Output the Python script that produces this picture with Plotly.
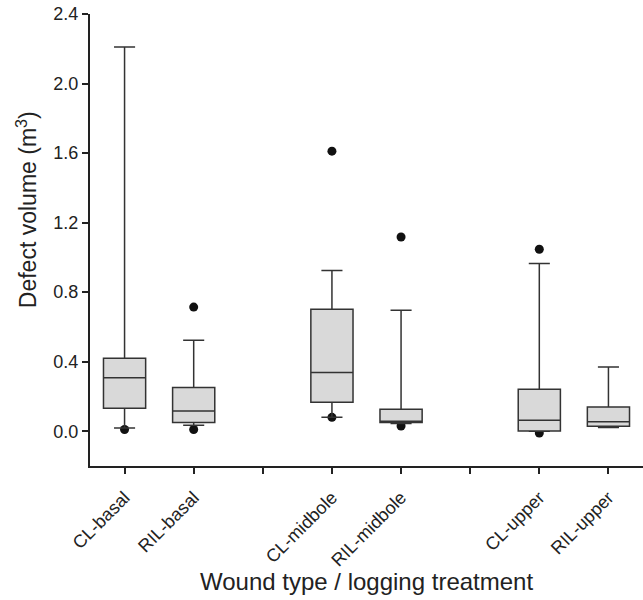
import plotly.graph_objects as go

# --- data ---
tick_positions = [1, 2, 3, 4, 5, 6, 7, 8]
tick_labels = ["CL-basal", "RIL-basal", "", "CL-midbole", "RIL-midbole", "", "CL-upper", "RIL-upper"]

box_positions = [1, 2, 4, 5, 7, 8]
q1 = [0.132, 0.050, 0.167, 0.050, 0.002, 0.029]
median = [0.307, 0.117, 0.338, 0.058, 0.063, 0.054]
q3 = [0.420, 0.251, 0.702, 0.127, 0.242, 0.140]
lower_whisker = [0.019, 0.035, 0.081, 0.044, 0.000, 0.021]
upper_whisker = [2.21, 0.524, 0.925, 0.696, 0.965, 0.370]

outlier_x = [1, 2, 2, 4, 4, 5, 5, 7, 7]
outlier_y = [0.010, 0.714, 0.010, 1.611, 0.080, 1.117, 0.030, 1.047, -0.010]

y_ticks = [0.0, 0.4, 0.8, 1.2, 1.6, 2.0, 2.4]

FONT = "Liberation Sans, Arial, Helvetica, sans-serif"
x_range = [0.5, 8.5]
y_range = [-0.2, 2.4]

fig = go.Figure()

# outliers drawn beneath the boxes (main axes)
fig.add_trace(go.Scatter(
    x=outlier_x, y=outlier_y, mode="markers",
    marker=dict(color="#111111", size=9, line=dict(width=0)),
    showlegend=False, hoverinfo="skip", xaxis="x", yaxis="y",
))

# boxes on an overlaying axis pair so they sit on top of the dots
fig.add_trace(go.Box(
    x=box_positions, q1=q1, median=median, q3=q3,
    lowerfence=lower_whisker, upperfence=upper_whisker,
    width=0.61, whiskerwidth=0.5,
    fillcolor="#d9d9d9", line=dict(color="#333333", width=1.5),
    boxpoints=False, showlegend=False, xaxis="x2", yaxis="y2",
))

fig.update_layout(
    width=643, height=600,
    margin=dict(l=90, r=0, t=14, b=134),
    paper_bgcolor="white", plot_bgcolor="white",
    font=dict(family=FONT, color="#222222", size=18),
    xaxis=dict(
        range=x_range, tickmode="array", tickvals=tick_positions, ticktext=tick_labels,
        tickangle=-45, ticks="outside", ticklen=6, tickwidth=1.5, tickcolor="#222222",
        ticklabelstandoff=6,
        showline=True, linecolor="#222222", linewidth=2, showgrid=False, zeroline=False,
        tickfont=dict(size=18), automargin=False,
    ),
    yaxis=dict(
        range=y_range, tickmode="array", tickvals=y_ticks, tickformat=".1f",
        ticks="outside", ticklen=6, tickwidth=1.5, tickcolor="#222222",
        showline=True, linecolor="#222222", linewidth=2, showgrid=False, zeroline=False,
        tickfont=dict(size=18), automargin=False,
    ),
    xaxis2=dict(range=x_range, overlaying="x", visible=False, showgrid=False, zeroline=False),
    yaxis2=dict(range=y_range, overlaying="y", visible=False, showgrid=False, zeroline=False),
    annotations=[
        dict(
            text="Defect volume (m<sup>3</sup>)", textangle=-90,
            xref="paper", yref="paper", x=0, y=0.566, xshift=-63,
            xanchor="center", yanchor="middle", showarrow=False,
            font=dict(size=23, family=FONT, color="#222222"),
        ),
        dict(
            text="Wound type / logging treatment",
            xref="paper", yref="paper", x=0.5, y=-0.2566,
            xanchor="center", yanchor="middle", showarrow=False,
            font=dict(size=24, family=FONT, color="#222222"),
        ),
    ],
)

fig.write_html(
    "out.html",
    config={"displayModeBar": False},
    post_script="document.body.style.margin='0';document.body.style.overflow='hidden';",
)
